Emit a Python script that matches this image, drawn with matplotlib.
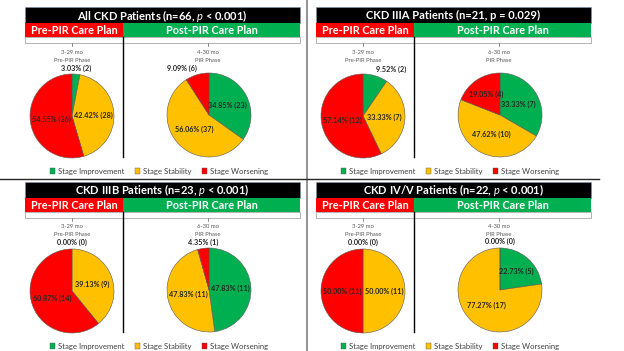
import matplotlib
matplotlib.use("Agg")
import matplotlib.pyplot as plt
from matplotlib.patches import Rectangle, Patch
from matplotlib.lines import Line2D
import numpy as np

plt.rcParams['font.family'] = ['Lato', 'DejaVu Sans']
plt.rcParams['mathtext.fontset'] = 'custom'
plt.rcParams['mathtext.rm'] = 'Lato'
plt.rcParams['mathtext.it'] = 'Lato:italic'
plt.rcParams['mathtext.bf'] = 'Lato:bold'

# ---------------- data ----------------
panel_titles = [
    "All CKD Patients (n=66, $p$ < 0.001)",
    "CKD IIIA Patients (n=21, p = 0.029)",
    "CKD IIIB Patients (n=23, $p$ < 0.001)",
    "CKD IV/V Patients (n=22, $p$ < 0.001)",
]
categories = ["Stage Improvement", "Stage Stability", "Stage Worsening"]
pre_counts = [
    [2, 28, 36],
    [2, 7, 12],
    [0, 9, 14],
    [0, 11, 11],
]
post_counts = [
    [23, 37, 6],
    [7, 10, 4],
    [11, 11, 1],
    [5, 17, 0],
]
pre_phase = ["3-29 mo", "3-29 mo", "3-29 mo", "3-29 mo"]
post_phase = ["4-30 mo", "6-30 mo", "6-30 mo", "4-30 mo"]
pre_phase_name = "Pre-PIR Phase"
post_phase_name = "PIR Phase"
pre_header = "Pre-PIR Care Plan"
post_header = "Post-PIR Care Plan"

colors = ["#00B050", "#FFC000", "#FF0000"]

# ---------------- figure ----------------
W, H = 624, 351
fig = plt.figure(figsize=(W / 100, H / 100), dpi=100)
fig.patch.set_facecolor("white")


def rect(x, y, w, h, fc, ec="none", lw=0.0, z=1):
    fig.add_artist(Rectangle((x / W, 1 - (y + h) / H), w / W, h / H,
                             transform=fig.transFigure, facecolor=fc,
                             edgecolor=ec, linewidth=lw, zorder=z))


def line(x0, y0, x1, y1, color, lw, z=2):
    fig.add_artist(Line2D([x0 / W, x1 / W], [1 - y0 / H, 1 - y1 / H],
                          transform=fig.transFigure, color=color,
                          linewidth=lw, zorder=z))


def text(x, y, s, **kw):
    fig.text(x / W, 1 - y / H, s, **kw)


def draw_pie(cx, cy, r, counts):
    ax = fig.add_axes([(cx - r) / W, 1 - (cy + r) / H, 2 * r / W, 2 * r / H])
    total = sum(counts)
    wedges, _ = ax.pie(counts, colors=colors, startangle=90, counterclock=False,
                       radius=1, wedgeprops=dict(edgecolor="#595959", linewidth=0.4))
    ax.set_xlim(-1, 1)
    ax.set_ylim(-1, 1)
    ax.axis("off")
    for w, n in zip(wedges, counts):
        frac = n / total
        lab = f"{100 * frac:.2f}% ({n})"
        th = np.deg2rad((w.theta1 + w.theta2) / 2)
        c, s = np.cos(th), np.sin(th)
        if frac < 0.15:
            rr = 1.06
            ha = "left" if c > 0.25 else ("right" if c < -0.25 else "center")
            ax.text(rr * c, rr * s, lab, ha=ha, va="bottom", fontsize=5.2,
                    fontweight="bold", color="#262626", clip_on=False)
        else:
            rr = 0.6 if frac < 0.3 else 0.5
            ax.text(rr * c, rr * s, lab, ha="center", va="center", fontsize=5.2,
                    fontweight="bold", color="#262626", clip_on=False)


offsets = [(0, 0), (291, 0), (0, 175), (291, 175)]

for i, (ox, oy) in enumerate(offsets):
    # headers
    rect(ox + 25, oy + 7, 275, 16, "black", ec="#8497B0", lw=0.4, z=3)
    text(ox + 162.5, oy + 15.5, panel_titles[i], ha="center", va="center",
         color="white", fontsize=8.0, fontweight="bold", zorder=4)
    rect(ox + 25, oy + 23, 98, 14, "#FF0000", z=3)
    rect(ox + 123, oy + 23, 177, 14, "#00B050", z=3)
    text(ox + 74, oy + 30.5, pre_header, ha="center", va="center",
         color="white", fontsize=7.8, fontweight="bold", zorder=4)
    text(ox + 211.5, oy + 30.5, post_header, ha="center", va="center",
         color="white", fontsize=7.8, fontweight="bold", zorder=4)
    rect(ox + 25, oy + 37, 275, 6, "white", ec="#A6A6A6", lw=0.6, z=2)
    # ticks
    line(ox + 72, oy + 43, ox + 72, oy + 46, "#7F7F7F", 0.6)
    line(ox + 208, oy + 43, ox + 208, oy + 46, "#7F7F7F", 0.6)
    # divider
    line(ox + 123, oy + 37, ox + 123, oy + 157, "black", 1.0, z=5)
    # phase text
    text(ox + 72, oy + 52, pre_phase[i], ha="center", va="center",
         color="#595959", fontsize=4.2)
    text(ox + 72, oy + 60, pre_phase_name, ha="center", va="center",
         color="#595959", fontsize=4.2)
    text(ox + 208, oy + 52, post_phase[i], ha="center", va="center",
         color="#595959", fontsize=4.2)
    text(ox + 208, oy + 60, post_phase_name, ha="center", va="center",
         color="#595959", fontsize=4.2)
    # pies
    draw_pie(ox + 72, oy + 116, 42, pre_counts[i])
    draw_pie(ox + 209, oy + 115, 42, post_counts[i])
    # legend
    handles = [Patch(facecolor=c, edgecolor="#595959", linewidth=0.3) for c in colors]
    fig.legend(handles, categories, loc="center",
               bbox_to_anchor=((ox + 159) / W, 1 - (oy + 171) / H),
               ncol=3, frameon=False, fontsize=5.6, handlelength=0.7,
               handleheight=0.7, handletextpad=0.4, columnspacing=1.3,
               borderaxespad=0, borderpad=0, labelcolor="#404040")

# separators
line(307, 0, 307, 351, "#7F7F7F", 1.2, z=6)
line(0, 179, 599, 179, "#262626", 1.0, z=6)

fig.savefig("out.png", dpi=100)
